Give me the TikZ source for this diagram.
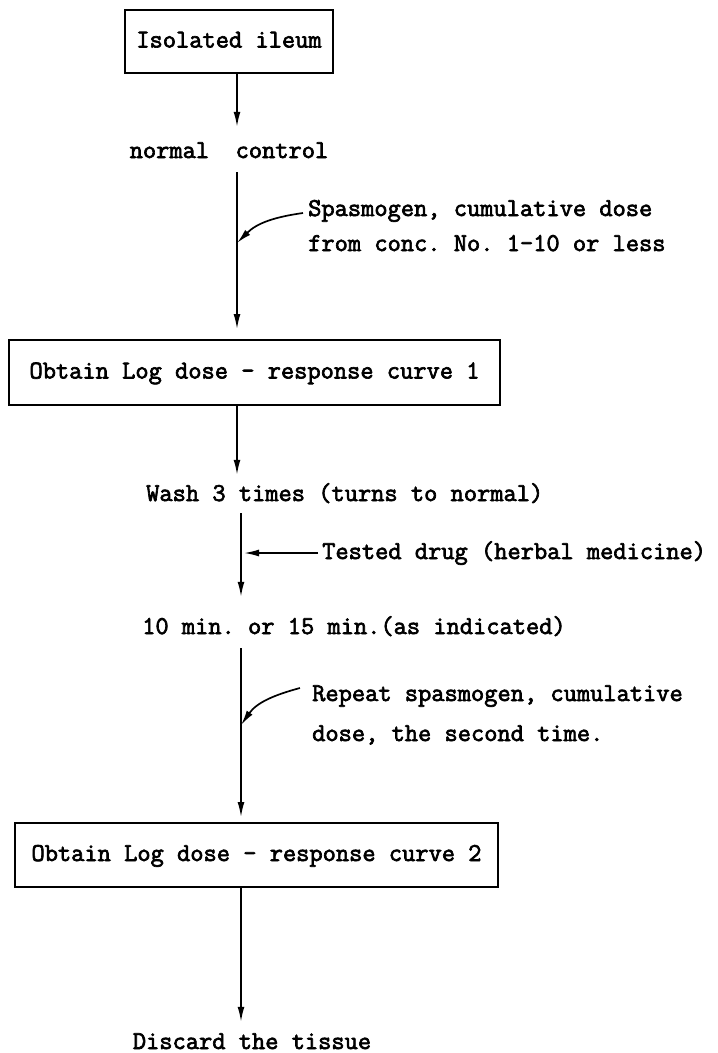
\documentclass[tikz,border=0pt]{standalone}
\usepackage{fontspec}
\setmonofont[FakeBold=2.6]{Latin Modern Mono}
\usetikzlibrary{arrows.meta}

\begin{document}
\begin{tikzpicture}[x=1pt,y=-1pt,
        every node/.style={font=\ttfamily\fontsize{25.7}{31}\selectfont, inner sep=0pt, text height=17pt, text depth=5pt},
        stepbox/.style={draw, line width=2pt},
        arr/.style={line width=1.7pt, -{Latex[length=15pt,width=7pt]}}]
        \useasboundingbox (0,0) rectangle (718,1053);
        % Spine of the flow (the scan leans a little)
        \coordinate (spineA) at (237,0);
        \coordinate (spineB) at (241,0);
        % Boxes
        \node[stepbox, minimum width=208pt, minimum height=63pt] (ileum) at (229,41.5) {Isolated ileum};
        \node[stepbox, minimum width=491pt, minimum height=65pt] (curveA) at (254.5,372.5) {Obtain Log dose - response curve 1};
        \node[stepbox, minimum width=483pt, minimum height=64pt] (curveB) at (256.5,855) {Obtain Log dose - response curve 2};
        % Steps between boxes
        \node (normal) at (229,152) {normal\ \ control};
        \node[anchor=west] (wash) at (146,495) {Wash 3 times (turns to normal)};
        \node[anchor=west] (wait) at (142,628) {10 min. or 15 min.(as indicated)};
        \node (discard) at (252,1043) {Discard the tissue};
        % Side notes
        \node[anchor=west] (spasmA) at (308,210) {Spasmogen, cumulative dose};
        \node[anchor=west] (spasmB) at (308,245) {from conc. No. 1-10 or less};
        \node[anchor=west] (drug) at (322,553) {Tested drug (herbal medicine)};
        \node[anchor=west] (repeatA) at (312,695) {Repeat spasmogen, cumulative};
        \node[anchor=west] (repeatB) at (312,735) {dose, the second time.};
        \coordinate (hitA) at (237,243);
        \coordinate (hitB) at (241,725);
        % Vertical arrows
        \draw[arr, shorten >=14pt] (ileum.south -| spineA) -- (normal.north -| spineA);
        \draw[arr, shorten <=9pt, shorten >=10pt] (normal.south -| spineA) -- (curveA.north -| spineA);
        \draw[arr, shorten >=9pt] (curveA.south -| spineA) -- (wash.north -| spineA);
        \draw[arr, shorten <=7pt, shorten >=20pt] (wash.south -| spineB) -- (wait.north -| spineB);
        \draw[arr, shorten <=9pt, shorten >=5pt] (wait.south -| spineB) -- (curveB.north -| spineB);
        \draw[arr, shorten >=10pt] (curveB.south -| spineB) -- (discard.north -| spineB);
        % Side arrows
        \draw[arr] ([xshift=-5pt,yshift=-3pt]spasmA.west) to[out=188, in=45] (hitA);
        \draw[arr, shorten <=4pt, shorten >=3pt] (drug.west) -- (drug.west -| spineB);
        \draw[arr] ([xshift=-12pt,yshift=7pt]repeatA.west) to[out=195, in=55] (hitB);
\end{tikzpicture}
\end{document}
